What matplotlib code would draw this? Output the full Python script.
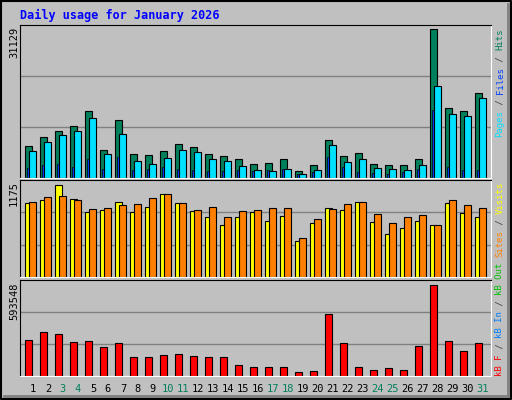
import numpy as np
import matplotlib.pyplot as plt

days = list(range(1, 32))
weekend = [3, 4, 10, 11, 17, 18, 24, 25, 31]

hits = [6620, 8522, 9790, 10846, 14015, 5775, 12114, 4930, 4719, 5564, 7043, 6409, 4930, 4507, 3874, 3028,
        3240, 3874, 1549, 2817, 7888, 4507, 5141, 3028, 2817, 2817, 3874, 31129, 14649, 14015, 17819]
files = [5564, 7466, 8945, 9790, 12537, 4930, 9156, 3662, 3028, 4085, 5775, 5353, 3874, 3662, 2606, 1761,
         1549, 1972, 916, 1761, 6832, 3451, 3874, 2183, 1972, 1761, 2817, 19298, 13382, 12960, 16763]
pages = [2183, 2817, 3028, 2395, 3874, 1972, 4296, 1761, 1972, 2395, 1972, 1761, 1549, 1549, 1761, 1549,
         1761, 1972, 916, 1338, 4296, 2395, 1338, 1127, 916, 1338, 1972, 14227, 2395, 1761, 1761]
visits = [947, 985, 1175, 998, 833, 858, 960, 833, 896, 1061, 947, 845, 769, 668, 769, 833,
          718, 782, 454, 693, 879, 858, 960, 705, 551, 627, 718, 668, 947, 820, 769]
sites = [960, 1023, 1036, 985, 871, 884, 922, 934, 1010, 1061, 947, 858, 896, 769, 845, 858,
         884, 884, 502, 740, 871, 934, 960, 807, 693, 769, 795, 668, 985, 922, 884]
kbytes = [233702, 285881, 272836, 220657, 227179, 188045, 213043, 121718, 121718, 134763, 141285, 128240,
          121718, 121718, 69539, 56494, 56494, 56494, 23881, 30403, 406524, 213043, 56494, 36925, 49971,
          36925, 193479, 593548, 227179, 162027, 213043]

BG = '#C0C0C0'
W, H = 512, 400
fig = plt.figure(figsize=(W / 100, H / 100), dpi=100, facecolor=BG)

def ax_at(x0, y0, x1, y1):
    ax = fig.add_axes([x0 / W, 1 - y1 / H, (x1 - x0) / W, (y1 - y0) / H])
    ax.set_facecolor(BG)
    ax.set_xticks([])
    ax.set_yticks([])
    for s in ['left', 'top']:
        ax.spines[s].set_color('black')
    for s in ['right', 'bottom']:
        ax.spines[s].set_color('white')
    ax.set_xlim(-0.353, 31.05)
    return ax

x = np.arange(31)
bw = 7 / 15
off = 4 / 15

ax1 = ax_at(20, 25, 491, 178)
ymax1 = max(hits) * 152 / 147.7
ax1.set_ylim(0, ymax1)
for g in [ymax1 / 3, ymax1 * 2 / 3]:
    ax1.axhline(g, color='#808080', lw=1, zorder=0)
ax1.bar(x, hits, width=bw, align='edge', color='#00805C', edgecolor='black', lw=0.8)
ax1.bar(x + 0.1, pages, width=0.15, align='edge', color='#0040FF', edgecolor='black', lw=0.5)
ax1.bar(x + off, files, width=bw, align='edge', color='#00E0FF', edgecolor='black', lw=0.8)

ax2 = ax_at(20, 180, 491, 277)
ymax2 = max(visits) * 97 / 92.3
ax2.set_ylim(0, ymax2)
for g in [ymax2 / 3, ymax2 * 2 / 3]:
    ax2.axhline(g, color='#808080', lw=1, zorder=0)
ax2.bar(x, visits, width=bw, align='edge', color='#FFFF00', edgecolor='black', lw=0.8)
ax2.bar(x + off, sites, width=bw, align='edge', color='#FF8000', edgecolor='black', lw=0.8)

ax3 = ax_at(20, 280, 491, 376)
ymax3 = max(kbytes) * 96 / 91
ax3.set_ylim(0, ymax3)
for g in [ymax3 / 3, ymax3 * 2 / 3]:
    ax3.axhline(g, color='#808080', lw=1, zorder=0)
ax3.bar(x, kbytes, width=bw, align='edge', color='#FF0000', edgecolor='black', lw=0.8)

# day labels
for d in days:
    px = 20 + (d - 1 + 0.353 + 0.51) * 471 / 31.403
    fig.text(px / W, 1 - 389 / H, str(d), ha='center', va='center', fontsize=7.5,
             family='DejaVu Sans Mono', color='#00805C' if d in weekend else 'black')

fig.text(20 / W, 1 - 15 / H, 'Daily usage for January 2026', color='#0000FF', fontsize=8.5,
         family='DejaVu Sans Mono', weight='bold', va='center')

for lbl, ytop in [('31129', 27), ('1175', 181), ('593548', 283)]:
    fig.text(14 / W, 1 - ytop / H, lbl, rotation=90, ha='center', va='top', fontsize=7.5,
             family='DejaVu Sans Mono')

def side_label(parts, ybottom):
    y = ybottom
    for txt, col in parts:
        fig.text(500 / W, 1 - y / H, txt, rotation=90, ha='center', va='bottom', fontsize=6.5,
                 family='DejaVu Sans Mono', color=col)
        y -= len(txt) * 0.6 * 6.5 * 100 / 72

SL = '#404040'
side_label([('Pages', '#00E0FF'), (' / ', SL), ('Files', '#0040FF'), (' / ', SL), ('Hits', '#00805C')], 137)
side_label([('Sites', '#FF8000'), (' / ', SL), ('Visits', '#FFFF00')], 257)
side_label([('kB F', '#FF0000'), (' / ', SL), ('kB In', '#0080FF'), (' / ', SL), ('kB Out', '#00C000')], 376)

# outer frame with shadow
frame = fig.add_axes([0, 0, 1, 1], facecolor='none', zorder=-1)
frame.set_xlim(0, W)
frame.set_ylim(H, 0)
frame.axis('off')
frame.plot([1, W - 1, W - 1, 1, 1], [1, 1, H - 1, H - 1, 1], color='black', lw=1.5)
frame.plot([W - 4, W - 4], [4, H - 4], color='#808080', lw=2)
frame.plot([4, W - 4], [H - 4, H - 4], color='#808080', lw=2)

fig.savefig('out.png', dpi=100, facecolor=BG)
